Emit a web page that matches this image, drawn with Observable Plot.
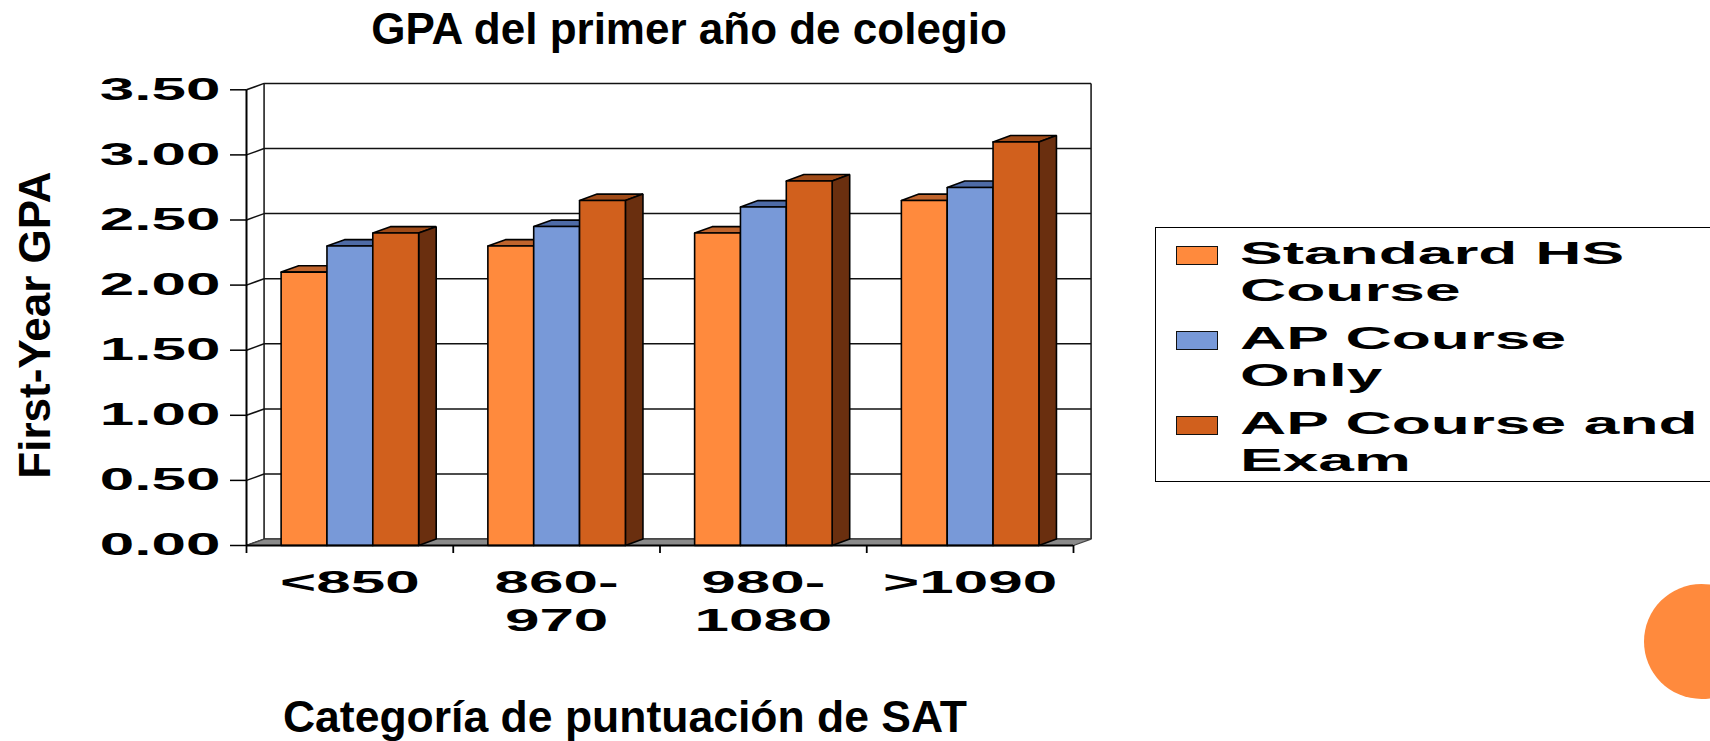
<!DOCTYPE html>
<html>
<head>
<meta charset="utf-8">
<script src="https://cdn.jsdelivr.net/npm/d3@7"></script>
<script src="https://cdn.jsdelivr.net/npm/@observablehq/plot@0.6"></script>
<style>
  html, body { margin: 0; padding: 0; background: #fff; overflow: hidden; }
  #wrap { position: relative; width: 1710px; height: 741px; overflow: hidden; font-family: "Liberation Sans", Arial, sans-serif; font-weight: bold; color: #000; }
  #wrap svg { position: absolute; left: 0; top: 0; }
  .abs { position: absolute; white-space: pre; }
</style>
</head>
<body>
<div id="wrap"></div>
<script>
// ---- data ----
const categories = ["<850", "860-970", "980-1080", ">1090"];
const tickLabels = ["<850", "860-\n970", "980-\n1080", ">1090"];
const seriesNames = ["Standard HS Course", "AP Course Only", "AP Course and Exam"];
const legendLabels = ["Standard HS\nCourse", "AP Course\nOnly", "AP Course and\nExam"];
const standardHS = [2.10, 2.30, 2.40, 2.65];
const apOnly = [2.30, 2.45, 2.60, 2.75];
const apExam = [2.40, 2.65, 2.80, 3.10];
const yTicks = [0, 0.5, 1.0, 1.5, 2.0, 2.5, 3.0, 3.5];

const frontColors = ["#FF8A3D", "#7899D8", "#D1601D"];
const topColors = ["#C0642C", "#4E6BA6", "#A04B18"];
const sideColors = ["#8A4417", "#3D5484", "#6A2F0F"];

const title = "GPA del primer año de colegio";
const xTitle = "Categoría de puntuación de SAT";
const yTitle = "First-Year GPA";

// ---- layout constants (depth of 3D effect, bar widths in band units) ----
const ddx = 0.085;   // depth in x units (category bands)
const ddy = 0.049;   // depth in y units (GPA)
const barW = 0.2217;
const barOff = (1 - 3 * barW) / 2;

const values = [standardHS, apOnly, apExam];

// polygons in painter's order
const pts = [];
let pid = 0;
categories.forEach((c, i) => {
  values.forEach((vals, s) => {
    const v = vals[i];
    const x0 = i + barOff + s * barW, x1 = x0 + barW;
    const add = (poly, color) => { const id = pid++; poly.forEach(([x, y]) => pts.push({x, y, id, color})); };
    add([[x0, v], [x1, v], [x1 + ddx, v + ddy], [x0 + ddx, v + ddy], [x0, v]], topColors[s]);
    add([[x1, 0], [x1 + ddx, ddy], [x1 + ddx, v + ddy], [x1, v], [x1, 0]], sideColors[s]);
    add([[x0, 0], [x1, 0], [x1, v], [x0, v], [x0, 0]], frontColors[s]);
  });
});

const n = categories.length;
const floor = [[0, 0], [n, 0], [n + ddx, ddy], [ddx, ddy], [0, 0]].map(([x, y]) => ({x, y}));

const plot = Plot.plot({
  width: 1710,
  height: 741,
  marginLeft: 246,
  marginRight: 637,
  marginTop: 89.3,
  marginBottom: 196,
  style: {fontFamily: "'Liberation Sans', Arial, sans-serif", fontWeight: "bold", background: "transparent", overflow: "visible", color: "#000"},
  x: {type: "linear", domain: [0, n]},
  y: {domain: [0, 3.5]},
  color: {type: "identity"},
  marks: [
    // back wall grid
    Plot.link(yTicks, {x1: ddx, x2: n + ddx, y1: d => d + ddy, y2: d => d + ddy, stroke: "#111", strokeWidth: 1.5}),
    Plot.link([ddx, n + ddx], {x1: d => d, x2: d => d, y1: ddy, y2: 3.5 + ddy, stroke: "#111", strokeWidth: 1.5}),
    // left side wall
    Plot.link(yTicks, {x1: 0, x2: ddx, y1: d => d, y2: d => d + ddy, stroke: "#111", strokeWidth: 1.5}),
    // floor
    Plot.line(floor, {x: "x", y: "y", fill: "#8a8a8a", stroke: "#444", strokeWidth: 1.2, curve: "linear"}),
    // bars
    Plot.line(pts, {x: "x", y: "y", z: "id", fill: "color", stroke: "#000", strokeWidth: 1.6, curve: "linear", strokeLinejoin: "miter"}),
    // front axes
    Plot.ruleY([0], {stroke: "#000", strokeWidth: 2}),
    Plot.ruleX([0], {y1: 0, y2: 3.5, stroke: "#000", strokeWidth: 2}),
    Plot.axisY({ticks: yTicks, tickSize: 16, tickPadding: 10, tickFormat: d3.format(".2f"), fontSize: 31, strokeWidth: 1.5, label: null}),
    Plot.axisX({ticks: d3.range(n + 1), tickSize: 8, tickFormat: () => "", strokeWidth: 1.8, label: null}),
    Plot.axisX({ticks: categories.map((c, i) => i + 0.5), tickSize: 0, tickPadding: 20, tickFormat: d => tickLabels[Math.floor(d)], fontSize: 31, lineHeight: 1.24, label: null})
  ]
});

// horizontally stretch tick labels (as in the reference), scaling about each label's anchor
plot.querySelectorAll('g[aria-label="y-axis tick label"] text, g[aria-label="x-axis tick label"] text').forEach(t => {
  const x = parseFloat(t.getAttribute("x")) || 0;
  const tr = t.getAttribute("transform") || "";
  t.setAttribute("transform", `${tr} translate(${x},0) scale(2,1) translate(${-x},0)`);
});

const wrap = document.getElementById("wrap");
wrap.appendChild(plot);

function addDiv(text, css) {
  const d = document.createElement("div");
  d.className = "abs";
  d.textContent = text;
  Object.assign(d.style, css);
  wrap.appendChild(d);
  return d;
}

// titles
addDiv(title, {left: "689px", top: "7px", fontSize: "44px", lineHeight: "44px", transform: "translateX(-50%)"});
addDiv(xTitle, {left: "625px", top: "695px", fontSize: "44.5px", lineHeight: "44.5px", transform: "translateX(-50%)"});
addDiv(yTitle, {left: "35px", top: "325px", fontSize: "44px", lineHeight: "44px", transform: "translate(-50%,-50%) rotate(-90deg)"});

// legend
addDiv("", {left: "1155px", top: "227px", width: "620px", height: "255px", border: "1.5px solid #000", boxSizing: "border-box"});
legendLabels.forEach((lab, s) => {
  addDiv("", {left: "1176px", top: (245.5 + 85 * s) + "px", width: "42px", height: "19px", background: frontColors[s], border: "1.5px solid #111", boxSizing: "border-box"});
  addDiv(lab, {left: "1240px", top: (235.4 + 85 * s) + "px", fontSize: "32px", lineHeight: "37px", transform: "scaleX(2)", transformOrigin: "0 0"});
});

// decorative circle
addDiv("", {left: "1644px", top: "584px", width: "115px", height: "115px", borderRadius: "50%", background: "#FF8A3D"});
</script>
</body>
</html>
